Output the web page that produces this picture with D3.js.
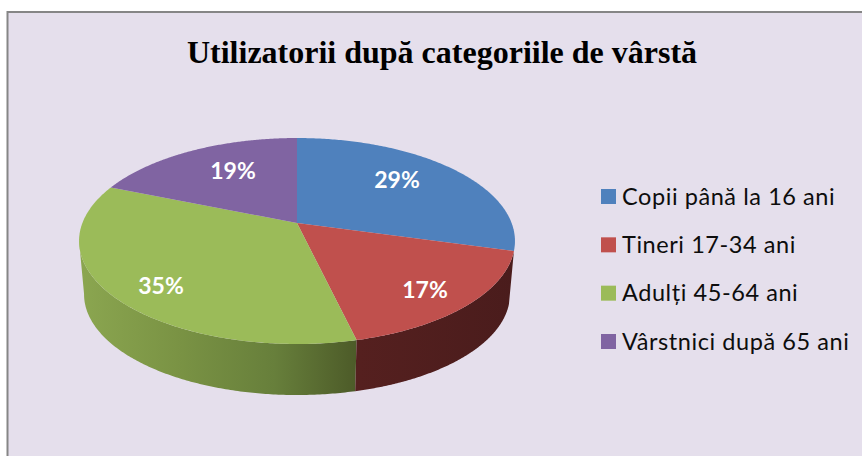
<!DOCTYPE html>
<html><head><meta charset="utf-8">
<script src="https://cdn.jsdelivr.net/npm/d3@7"></script>
<style>html,body{margin:0;padding:0;background:#fff}svg{display:block}</style>
</head><body><svg id="c" width="862" height="456"></svg>
<script>
const titleText = "Utilizatorii după categoriile de vârstă";
const categories = ["Copii până la 16 ani","Tineri 17-34 ani","Adulți 45-64 ani","Vârstnici după 65 ani"];
const values = [29.3,17,34.9,18.8];
const colors = ["#4f81bd","#c0504d","#9bbb59","#8064a2"];
const labelAnchors = [[397,180],[425,290],[161,286],[233,171]];

const svg = d3.select("#c");
svg.append("rect").attr("x",7.5).attr("y",12).attr("width",900).attr("height",500)
  .attr("fill","#e5dfec").attr("stroke","#868686").attr("stroke-width",2);
svg.append("text").attr("x",442).attr("y",63).attr("text-anchor","middle")
  .attr("font-family","Liberation Serif").attr("font-weight",700).attr("font-size",32).attr("fill","#000").text(titleText);

// perspective projection of the pie's unit circle
const cx=297, apexY=223, rx=214.6, ry=99.85, k=0.1748, depth=53.8, shrink=0.977;
function project(a,r=1,bottom=false){
  const u=r*Math.sin(a), v=-r*Math.cos(a), w=1-k*v, s=bottom?shrink:1;
  return [cx+rx*u/w*s, apexY+(bottom?depth:0)+ry*v/w*s];
}
const arcs = d3.pie().sort(null).value(d=>d)(values);
const line = d3.line();
const samples = (a,b)=>d3.range(0,161).map(i=>a+(b-a)*i/160);

const defs = svg.append("defs");
const gGreen = defs.append("linearGradient").attr("id","sideGreen").attr("gradientUnits","userSpaceOnUse")
  .attr("x1",80).attr("x2",358).attr("y1",0).attr("y2",0);
[[0,"#8ba650"],[0.35,"#7a9344"],[0.7,"#677f3b"],[1,"#4c5a28"]].forEach(s=>gGreen.append("stop").attr("offset",s[0]).attr("stop-color",s[1]));
const gRed = defs.append("linearGradient").attr("id","sideRed").attr("gradientUnits","userSpaceOnUse")
  .attr("x1",358).attr("x2",515).attr("y1",0).attr("y2",0);
[[0,"#55201f"],[1,"#4a1c1c"]].forEach(s=>gRed.append("stop").attr("offset",s[0]).attr("stop-color",s[1]));
const sideFill = [null,"url(#sideRed)","url(#sideGreen)",null];

const sides = svg.append("g");
[2,1].forEach(i=>{
  const d=arcs[i];
  // only the part of the wall in front of the silhouette tangent is visible
  const leftmost = d3.least(samples(d.startAngle,d.endAngle),a=>project(a)[0]);
  const end = i===2 ? leftmost : d.endAngle;
  const s=samples(d.startAngle,end);
  const pts=s.map(a=>project(a)).concat(s.slice().reverse().map(a=>project(a,1,true)));
  sides.append("path").attr("d",line(pts)+"Z").attr("fill",sideFill[i]);
});
const tops = svg.append("g");
arcs.forEach((d,i)=>{
  const pts=[project(0,0)].concat(samples(d.startAngle,d.endAngle).map(a=>project(a)));
  tops.append("path").attr("d",line(pts)+"Z").attr("fill",colors[i]);
});
svg.append("g").selectAll("text").data(values).join("text")
  .attr("x",(d,i)=>labelAnchors[i][0]).attr("y",(d,i)=>labelAnchors[i][1]+8)
  .attr("text-anchor","middle").attr("font-family","Lato").attr("font-weight",700).attr("font-size",23).attr("fill","#fff")
  .text(d=>Math.round(d)+"%");

const legendY = d3.scalePoint().domain(categories).range([196.5,341.5]);
const lg = svg.append("g").selectAll("g").data(categories).join("g");
lg.append("rect").attr("x",601).attr("y",d=>legendY(d)-7.5).attr("width",15).attr("height",15)
  .attr("fill",(d,i)=>colors[i]);
lg.append("text").attr("x",622).attr("y",d=>legendY(d)+8).attr("font-family","Lato").attr("font-size",23.5).attr("letter-spacing",0.57).attr("fill","#0d0d0d").text(d=>d);
</script></body></html>
